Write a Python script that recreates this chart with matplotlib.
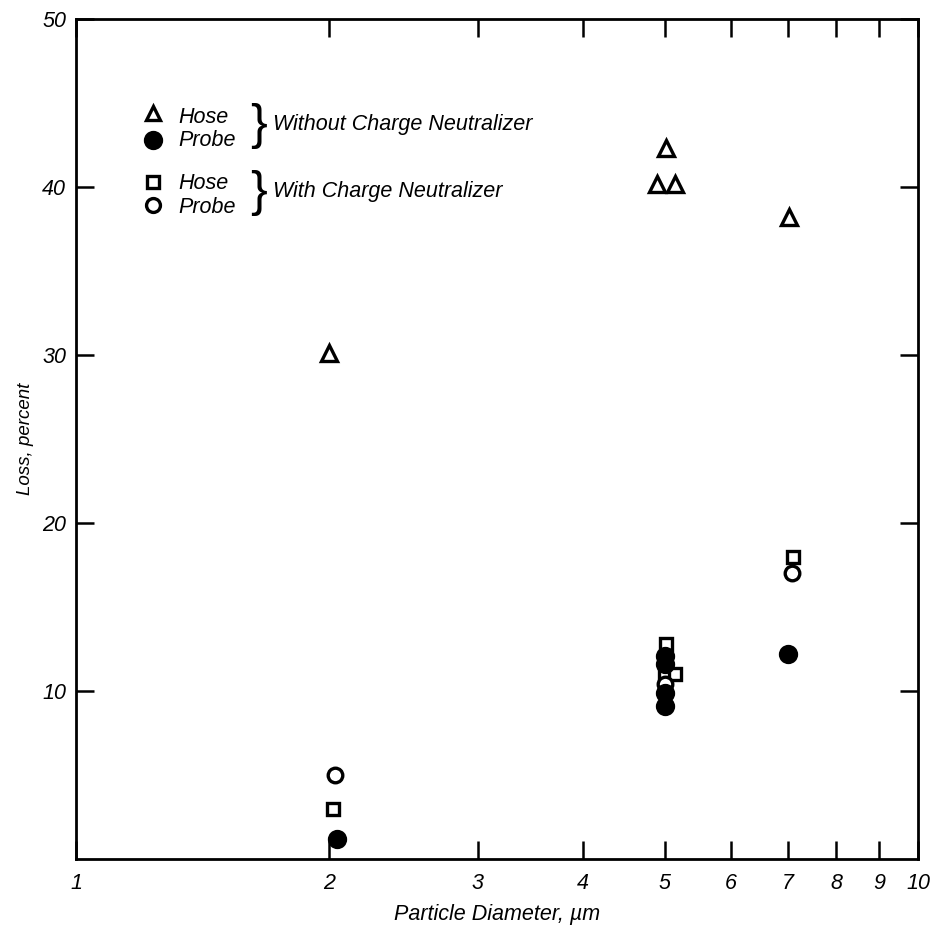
import matplotlib
matplotlib.use("Agg")
import matplotlib.pyplot as plt
from matplotlib.ticker import FixedLocator, NullLocator

plt.rcParams['font.family'] = ['Liberation Sans', 'DejaVu Sans']

# Hose, without charge neutralizer (open triangles)
hose_wo_x = [2.0, 5.02, 4.90, 5.15, 7.03]
hose_wo_y = [30.1, 42.3, 40.2, 40.2, 38.2]
# Probe, without charge neutralizer (filled circles)
probe_wo_x = [2.04, 5.0, 5.0, 5.0, 5.0, 7.0]
probe_wo_y = [1.2, 12.1, 11.6, 9.9, 9.1, 12.2]
# Hose, with charge neutralizer (open squares)
hose_w_x = [2.02, 5.02, 5.0, 5.15, 7.1]
hose_w_y = [3.0, 12.8, 11.0, 11.0, 18.0]
# Probe, with charge neutralizer (open circles)
probe_w_x = [2.03, 5.0, 7.08]
probe_w_y = [5.0, 10.4, 17.0]

x_ticks = [1, 2, 3, 4, 5, 6, 7, 8, 9, 10]
x_ticklabels = ["1", "2", "3", "4", "5", "6", "7", "8", "9", "10"]
y_ticks = [10, 20, 30, 40, 50]
y_ticklabels = ["10", "20", "30", "40", "50"]

fig = plt.figure(figsize=(9.36, 9.25), dpi=100)
ax = fig.add_axes([0.0812, 0.0714, 0.8996, 0.9081])
ax.set_xscale('log')
ax.set_xlim(1, 10)
ax.set_ylim(0, 50)

mk = dict(linestyle='none', color='black', markeredgewidth=2.4, clip_on=False)
ax.plot(hose_wo_x, hose_wo_y, marker='^', markersize=11, markerfacecolor='white', **mk)
ax.plot(hose_w_x, hose_w_y, marker='s', markersize=9, markerfacecolor='white', **mk)
ax.plot(probe_w_x, probe_w_y, marker='o', markersize=10.5, markerfacecolor='white', **mk)
ax.plot(probe_wo_x, probe_wo_y, marker='o', markersize=11.5, markerfacecolor='black', **mk)

ax.xaxis.set_major_locator(FixedLocator(x_ticks))
ax.xaxis.set_minor_locator(NullLocator())
ax.set_xticklabels(x_ticklabels)
ax.yaxis.set_major_locator(FixedLocator(y_ticks))
ax.set_yticklabels(y_ticklabels)

ax.tick_params(which='both', direction='in', length=13, width=1.8,
               top=True, right=True, labelsize=15.5, pad=10)
ax.tick_params(axis='y', pad=7)
for lab in ax.get_xticklabels() + ax.get_yticklabels():
    lab.set_fontstyle('italic')
for s in ax.spines.values():
    s.set_linewidth(2.0)

ax.set_xlabel('Particle Diameter, µm', fontsize=15.5, style='italic', labelpad=7)
ax.set_ylabel('Loss, percent', fontsize=13.5, style='italic', labelpad=6)

# Legend drawn by hand
T = ax.transAxes
lx, tx, bx, gx = 0.0914, 0.121, 0.207, 0.234
ax.plot([lx], [0.888], marker='^', markersize=10, markerfacecolor='white', transform=T, **mk)
ax.plot([lx], [0.856], marker='o', markersize=11.5, markerfacecolor='black', transform=T, **mk)
ax.plot([lx], [0.806], marker='s', markersize=8.5, markerfacecolor='white', transform=T, **mk)
ax.plot([lx], [0.779], marker='o', markersize=10, markerfacecolor='white', transform=T, **mk)
tk = dict(transform=T, fontsize=15.5, style='italic', va='center', ha='left')
ax.text(tx, 0.883, 'Hose', **tk)
ax.text(tx, 0.855, 'Probe', **tk)
ax.text(tx, 0.804, 'Hose', **tk)
ax.text(tx, 0.776, 'Probe', **tk)
ax.text(bx, 0.872, '}', transform=T, fontsize=36, va='center', ha='left', fontweight='light')
ax.text(bx, 0.793, '}', transform=T, fontsize=36, va='center', ha='left', fontweight='light')
ax.text(gx, 0.874, 'Without Charge Neutralizer', **tk)
ax.text(gx, 0.795, 'With Charge Neutralizer', **tk)

fig.savefig('out.png', dpi=100)
